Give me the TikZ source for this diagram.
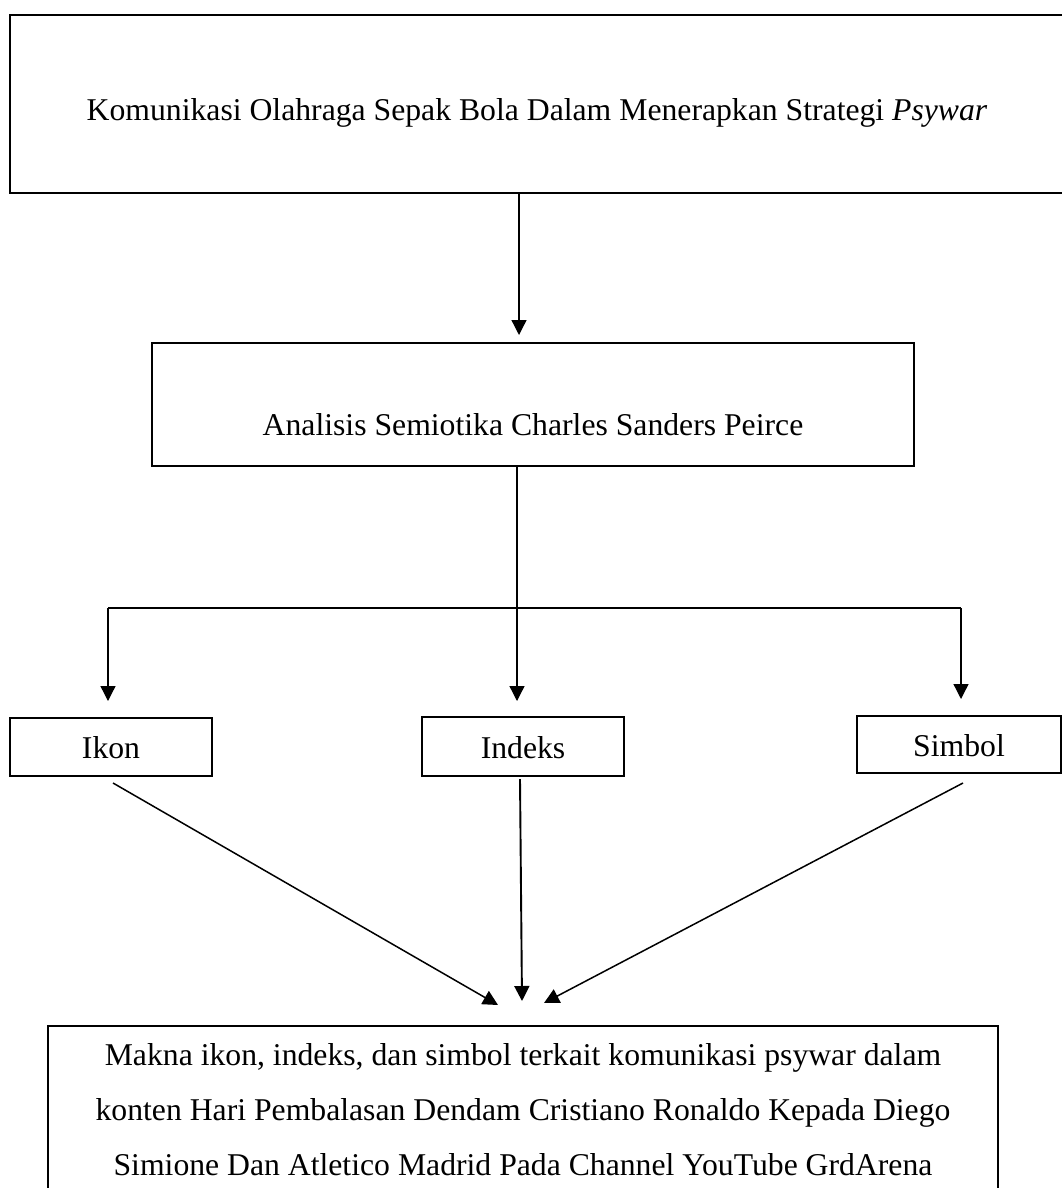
\documentclass[tikz,border=0pt]{standalone}
\usepackage{fontspec}
\setmainfont{Liberation Serif}
\usetikzlibrary{arrows.meta}
\begin{document}
\begin{tikzpicture}[x=1pt,y=-1pt,
  txt/.style={font=\fontsize{31.7pt}{55pt}\selectfont},
  box/.style={draw, txt, line width=1.2pt, rectangle, inner sep=0pt, outer sep=0pt, text depth=0pt},
  arr/.style={-{Triangle[length=15pt,width=15pt]}, line width=1.3pt},
  ln/.style={line width=1.3pt}]
\useasboundingbox (0,0) rectangle (1062,1188);
\clip (0,0) rectangle (1062,1188);
\fill[white] (0,0) rectangle (1062,1188);

% boxes
\node[box, line width=2.4pt, minimum width=1054pt, minimum height=178pt, text height=34pt] (top) at (537,104)
  {Komunikasi Olahraga Sepak Bola Dalam Menerapkan Strategi \textit{Psywar}};
\node[box, line width=1.7pt, minimum width=762pt, minimum height=123pt, text height=61pt] (ana) at (533,404.5)
  {Analisis Semiotika Charles Sanders Peirce};
\node[box, minimum width=202pt, minimum height=58pt, text height=22pt] (ikon) at (111,747) {Ikon};
\node[box, minimum width=202pt, minimum height=59pt, text height=24pt] (indeks) at (523,746.5) {Indeks};
\node[box, minimum width=204pt, minimum height=57pt, text height=23pt] (simbol) at (959,744.5) {Simbol};
\node[draw, txt, line width=1.2pt, inner xsep=0pt, inner ysep=0pt, outer sep=0pt, anchor=north, align=center, minimum width=950pt] (makna) at (523,1026)
  {\rule{0pt}{39pt}Makna ikon, indeks, dan simbol terkait komunikasi psywar dalam\\
   konten Hari Pembalasan Dendam Cristiano Ronaldo Kepada Diego\\
   Simione Dan Atletico Madrid Pada Channel YouTube GrdArena\rule[-60pt]{0pt}{60pt}};

% branching coordinates
\coordinate (j) at (517,608);
\coordinate (jl) at (108,608);
\coordinate (jr) at (961,608);

% connectors
\draw[arr, shorten >=8pt] ([xshift=-18pt]top.south) -- ([xshift=-14pt]ana.north);
\draw[ln] ([xshift=-16pt]ana.south) -- (j);
\draw[ln] (jl) -- (jr);
\draw[arr, shorten >=17pt] (jl) -- (jl |- ikon.north);
\draw[arr, shorten >=16pt] (j) -- (j |- indeks.north);
\draw[arr, shorten >=17pt] (jr) -- (jr |- simbol.north);

\draw[arr, line width=1.5pt] ([shift={(2,7)}]ikon.south) -- ([shift={(-25,-21)}]makna.north);
\draw[arr, line width=1.9pt] ([shift={(-3,3)}]indeks.south) -- ([shift={(-1,-25)}]makna.north);
\draw[arr, line width=1.5pt] ([shift={(4,10)}]simbol.south) -- ([shift={(21,-23)}]makna.north);
\end{tikzpicture}
\end{document}
